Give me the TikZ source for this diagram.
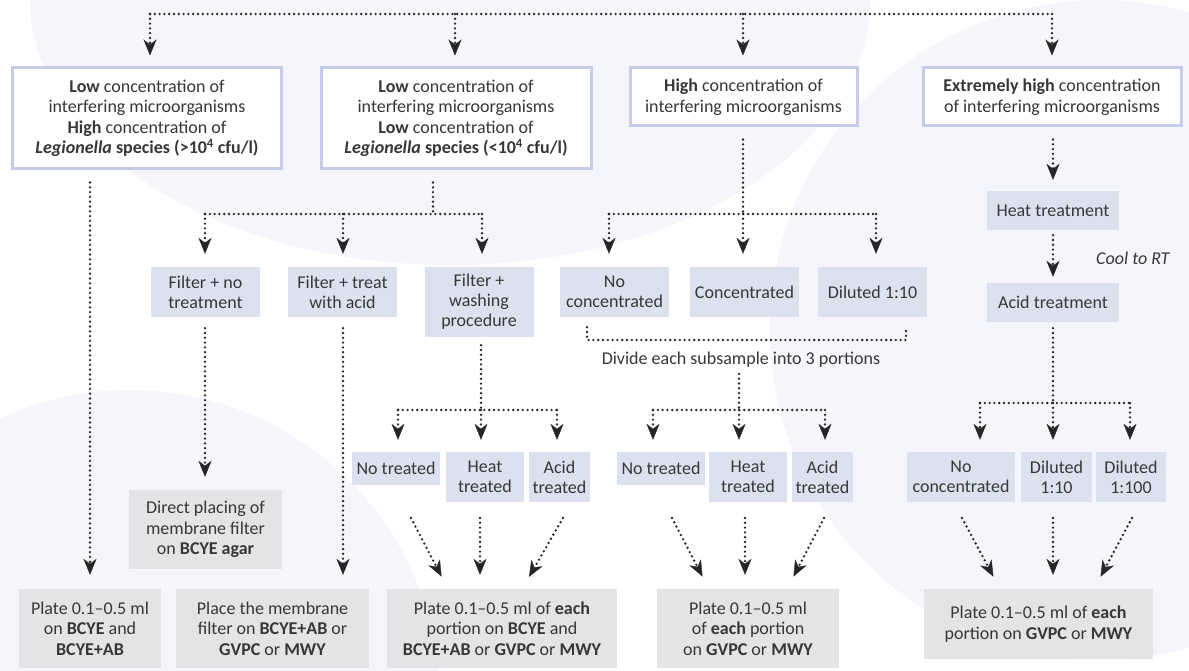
\documentclass[tikz,border=0pt]{standalone}
\usepackage{fontspec}
\setmainfont{Carlito}
\usetikzlibrary{arrows.meta}
\usetikzlibrary{positioning}

\definecolor{framecol}{RGB}{196,204,232}
\definecolor{boxblue}{RGB}{220,225,240}
\definecolor{boxgrey}{RGB}{227,228,230}
\definecolor{textcol}{RGB}{55,55,55}
\definecolor{backcol}{RGB}{245,246,251}

\tikzstyle{frame_node} = [
    draw=framecol,
    line width=3pt,
    fill=white,
    text=textcol,
    font=\fontsize{18}{20.5}\selectfont,
    align=center,
    inner sep=0pt
]
\tikzstyle{blue_node} = [
    fill=boxblue,
    text=textcol,
    font=\fontsize{18}{20}\selectfont,
    align=center,
    inner sep=0pt
]
\tikzstyle{grey_node} = [
    fill=boxgrey,
    text=textcol,
    font=\fontsize{18}{20.5}\selectfont,
    align=center,
    inner sep=0pt
]
\tikzstyle{plain_text} = [
    text=textcol,
    font=\fontsize{18}{20}\selectfont,
    inner sep=0pt
]
\tikzstyle{dot_line} = [
    draw=black!85,
    line width=2.6pt,
    line cap=round,
    dash pattern=on 0pt off 4.8pt
]
\tikzstyle{dot_arrow} = [
    dot_line,
    -{Stealth[length=16pt, width=13pt, inset=5pt, line width=0.4pt]},
    shorten >=12pt
]

\begin{document}
\begin{tikzpicture}[x=1pt, y=-1pt]
\useasboundingbox (0,0) rectangle (1189,671);
\clip (0,0) rectangle (1189,671);

% faint background shapes
\fill[backcol] (450,0) ellipse [x radius=420, y radius=265];
\fill[backcol] (130,700) circle [radius=310];
\fill[backcol] (1100,330) circle [radius=330];

% top row
\node [frame_node, minimum width=269pt, minimum height=101pt] (low_high) at (147,118.5)
    {\textbf{Low} concentration of\\interfering microorganisms\\\textbf{High} concentration of\\\textbf{\textit{Legionella} species (>10\textsuperscript{4} cfu/l)}};
\node [frame_node, minimum width=270pt, minimum height=101pt] (low_low) at (456,118.5)
    {\textbf{Low} concentration of\\interfering microorganisms\\\textbf{Low} concentration of\\\textbf{\textit{Legionella} species (<10\textsuperscript{4} cfu/l)}};
\node [frame_node, minimum width=227pt, minimum height=58pt] (high) at (743.5,97)
    {\textbf{High} concentration of\\interfering microorganisms};
\node [frame_node, minimum width=258pt, minimum height=58pt] (extreme) at (1052,97)
    {\textbf{Extremely high} concentration\\of interfering microorganisms};

% second row
\node [blue_node, minimum width=109pt, minimum height=50pt] (filter_none) at (205.5,292) {Filter + no\\treatment};
\node [blue_node, minimum width=109pt, minimum height=50pt] (filter_acid) at (342.5,292) {Filter + treat\\with acid};
\node [blue_node, minimum width=109pt, minimum height=70pt] (filter_wash) at (479,302) {Filter +\\washing\\procedure};
\node [blue_node, minimum width=109pt, minimum height=50pt] (no_conc) at (614.5,292) {No\\concentrated};
\node [blue_node, minimum width=109pt, minimum height=50pt] (conc) at (744.5,292) {Concentrated};
\node [blue_node, minimum width=109pt, minimum height=50pt] (dil_10) at (872.5,292) {Diluted 1:10};
\node [blue_node, minimum width=132pt, minimum height=39pt] (heat) at (1053,210.5) {Heat treatment};
\node [blue_node, minimum width=132pt, minimum height=39pt] (acid) at (1053,302.5) {Acid treatment};
\node [plain_text, anchor=west] (cool_note) at (1096,258) {\textit{Cool to RT}};
\node [plain_text] (divide) at (741,360) {Divide each subsample into 3 portions};

% third row
\node [blue_node, minimum width=88pt, minimum height=33pt] (no_treat_a) at (396,468.5) {No treated};
\node [blue_node, minimum width=78pt, minimum height=50pt] (heat_treat_a) at (485,477) {Heat\\treated};
\node [blue_node, minimum width=61pt, minimum height=50pt] (acid_treat_a) at (559.5,477) {Acid\\treated};
\node [blue_node, minimum width=88pt, minimum height=33pt] (no_treat_b) at (661,468.5) {No treated};
\node [blue_node, minimum width=78pt, minimum height=50pt] (heat_treat_b) at (748,477) {Heat\\treated};
\node [blue_node, minimum width=61pt, minimum height=50pt] (acid_treat_b) at (822.5,477) {Acid\\treated};
\node [blue_node, minimum width=108pt, minimum height=50pt] (no_conc_b) at (961,477) {No\\concentrated};
\node [blue_node, minimum width=71pt, minimum height=50pt] (dil_10_b) at (1056.5,477) {Diluted\\1:10};
\node [blue_node, minimum width=70pt, minimum height=50pt] (dil_100) at (1131,477) {Diluted\\1:100};
\node [grey_node, minimum width=153pt, minimum height=79pt] (direct) at (205.5,529.5)
    {Direct placing of\\membrane filter\\on \textbf{BCYE agar}};

% bottom row
\node [grey_node, minimum width=142pt, minimum height=79pt] (plate_one) at (90,628.5)
    {Plate 0.1--0.5 ml\\on \textbf{BCYE} and\\\textbf{BCYE+AB}};
\node [grey_node, minimum width=193pt, minimum height=79pt] (plate_two) at (272.5,628.5)
    {Place the membrane\\filter on \textbf{BCYE+AB} or\\\textbf{GVPC} or \textbf{MWY}};
\node [grey_node, minimum width=230pt, minimum height=79pt] (plate_three) at (502,628.5)
    {Plate 0.1--0.5 ml of \textbf{each}\\portion on \textbf{BCYE} and\\\textbf{BCYE+AB} or \textbf{GVPC} or \textbf{MWY}};
\node [grey_node, minimum width=182pt, minimum height=79pt] (plate_four) at (748,628.5)
    {Plate 0.1--0.5 ml\\of \textbf{each} portion\\on \textbf{GVPC} or \textbf{MWY}};
\node [grey_node, minimum width=229pt, minimum height=70pt] (plate_five) at (1038.5,624)
    {Plate 0.1--0.5 ml of \textbf{each}\\portion on \textbf{GVPC} or \textbf{MWY}};

% junctions
\coordinate (top_a) at (150,14);
\coordinate (top_b) at (455,14);
\coordinate (top_c) at (743,14);
\coordinate (top_d) at (1052,14);
\coordinate (col_a) at (90,0);
\coordinate (split_filter) at (433,214);
\coordinate (filter_a) at (205,214);
\coordinate (filter_b) at (343,214);
\coordinate (filter_c) at (482,214);
\coordinate (split_conc) at (743,214);
\coordinate (conc_a) at (609,214);
\coordinate (conc_c) at (876,214);
\coordinate (split_dil) at (1053,403);
\coordinate (dil_a) at (980,403);
\coordinate (dil_c) at (1130,403);
\coordinate (split_wash) at (481,410);
\coordinate (wash_a) at (398,410);
\coordinate (wash_c) at (557,410);
\coordinate (brace_l) at (587,340);
\coordinate (brace_r) at (906,340);
\coordinate (split_div) at (739,410);
\coordinate (div_a) at (653,410);
\coordinate (div_c) at (825,410);

% top split
\draw [dot_line] (top_a) -- (top_d);
\draw [dot_arrow, shorten >=11pt] (top_a) -- (top_a |- low_high.north);
\draw [dot_arrow, shorten >=11pt] (top_b) -- (top_b |- low_low.north);
\draw [dot_arrow, shorten >=11pt] (top_c) -- (top_c |- high.north);
\draw [dot_arrow, shorten >=11pt] (top_d) -- (top_d |- extreme.north);

% first column
\draw [dot_arrow, shorten <=12pt, shorten >=14pt] (col_a |- low_high.south) -- (col_a |- plate_one.north);

% second column
\draw [dot_line, shorten <=12pt] (split_filter |- low_low.south) -- (split_filter);
\draw [dot_line] (filter_a) -- (filter_c);
\draw [dot_arrow, shorten >=13pt] (filter_a) -- (filter_a |- filter_none.north);
\draw [dot_arrow, shorten >=13pt] (filter_b) -- (filter_b |- filter_acid.north);
\draw [dot_arrow, shorten >=13pt] (filter_c) -- (filter_c |- filter_wash.north);
\draw [dot_arrow, shorten <=11pt, shorten >=13pt] (filter_a |- filter_none.south) -- (filter_a |- direct.north);
\draw [dot_arrow, shorten <=11pt, shorten >=14pt] (filter_b |- filter_acid.south) -- (filter_b |- plate_two.north);
\draw [dot_line, shorten <=8pt] (split_wash |- filter_wash.south) -- (split_wash);
\draw [dot_line] (wash_a) -- (wash_c);
\draw [dot_arrow] (wash_a) -- (wash_a |- no_treat_a.north);
\draw [dot_arrow] (split_wash) -- (split_wash |- heat_treat_a.north);
\draw [dot_arrow] (wash_c) -- (wash_c |- acid_treat_a.north);

% third column
\draw [dot_line, shorten <=12pt] (split_conc |- high.south) -- (split_conc);
\draw [dot_line] (conc_a) -- (conc_c);
\draw [dot_arrow, shorten >=13pt] (conc_a) -- (conc_a |- no_conc.north);
\draw [dot_arrow, shorten >=13pt] (split_conc) -- (split_conc |- conc.north);
\draw [dot_arrow, shorten >=13pt] (conc_c) -- (conc_c |- dil_10.north);
\draw [dot_line, shorten <=10pt, shorten >=10pt] (brace_l |- no_conc.south) -- (brace_l) -- (brace_r) -- (brace_r |- dil_10.south);
\draw [dot_line, shorten <=6pt] (split_div |- divide.south) -- (split_div);
\draw [dot_line] (div_a) -- (div_c);
\draw [dot_arrow] (div_a) -- (div_a |- no_treat_b.north);
\draw [dot_arrow] (split_div) -- (split_div |- heat_treat_b.north);
\draw [dot_arrow] (div_c) -- (div_c |- acid_treat_b.north);

% fourth column
\draw [dot_arrow, shorten <=12pt, shorten >=11pt] (extreme.south -| heat.north) -- (heat.north);
\draw [dot_arrow, shorten <=5pt, shorten >=6pt] (heat.south) -- (acid.north);
\draw [dot_line, shorten <=6pt] (acid.south) -- (split_dil);
\draw [dot_line] (dil_a) -- (dil_c);
\draw [dot_arrow] (dil_a) -- (dil_a |- no_conc_b.north);
\draw [dot_arrow] (split_dil) -- (split_dil |- dil_10_b.north);
\draw [dot_arrow] (dil_c) -- (dil_c |- dil_100.north);

% converging arrows
\coordinate (wash_in_a) at (411,518);
\coordinate (wash_in_b) at (480,518);
\coordinate (wash_in_c) at (563,518);
\coordinate (div_in_a) at (672,518);
\coordinate (div_in_b) at (745,518);
\coordinate (div_in_c) at (824,518);
\coordinate (dil_in_a) at (962,518);
\coordinate (dil_in_b) at (1053,518);
\coordinate (dil_in_c) at (1132,518);
\draw [dot_arrow, shorten >=14pt] (wash_in_a) -- (448,589);
\draw [dot_arrow, shorten >=14pt] (wash_in_b) -- (wash_in_b |- plate_three.north);
\draw [dot_arrow, shorten >=14pt] (wash_in_c) -- (522,589);
\draw [dot_arrow, shorten >=14pt] (div_in_a) -- (709,589);
\draw [dot_arrow, shorten >=14pt] (div_in_b) -- (div_in_b |- plate_four.north);
\draw [dot_arrow, shorten >=14pt] (div_in_c) -- (787,589);
\draw [dot_arrow, shorten >=14pt] (dil_in_a) -- (1000,589);
\draw [dot_arrow, shorten >=14pt] (dil_in_b) -- (dil_in_b |- plate_five.north);
\draw [dot_arrow, shorten >=14pt] (dil_in_c) -- (1094,589);
\end{tikzpicture}
\end{document}
